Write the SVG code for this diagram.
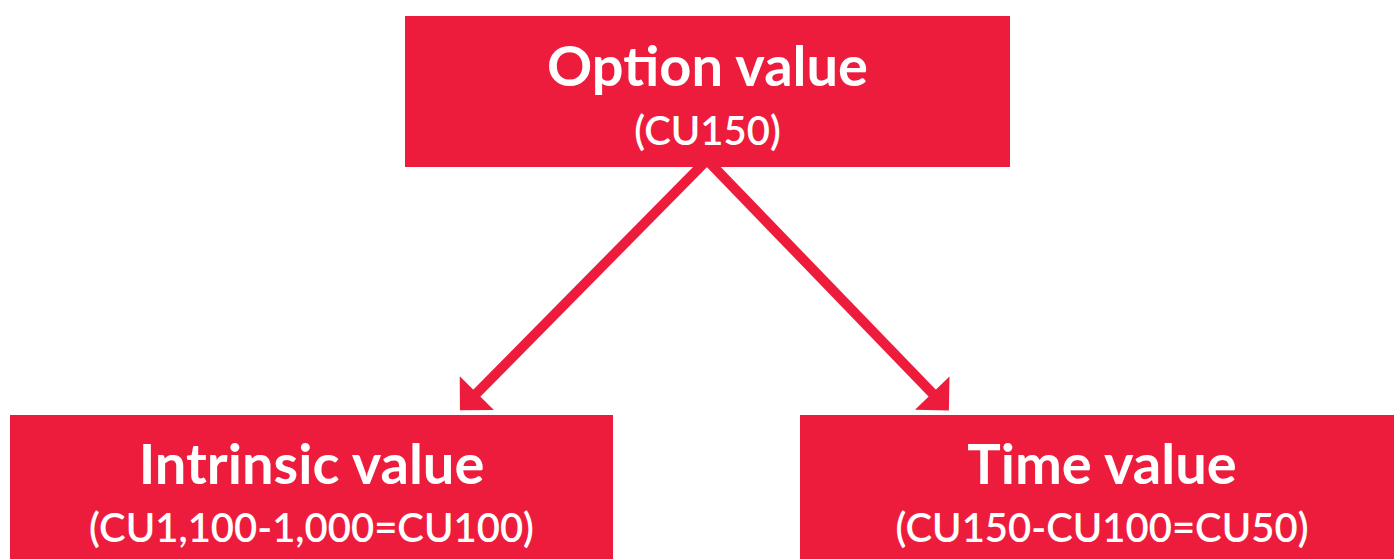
<svg xmlns="http://www.w3.org/2000/svg" width="1394" height="559" viewBox="0 0 1394 559">
<style>
.box{fill:#EE1C3C;}
.t{font-family:Lato,"Open Sans","Liberation Sans",sans-serif;fill:#fff;text-anchor:middle;}
.h{font-size:56px;font-weight:700;}
.s{font-size:40px;font-weight:600;}
.c{stroke:#EE1C3C;stroke-width:10;fill:none;}
</style>
<defs>
<marker id="ah" markerUnits="userSpaceOnUse" markerWidth="60" markerHeight="60" viewBox="-10 -30 40 60" refX="0" refY="0" orient="auto">
<path d="M20,0 L-4,-24 L-4,24 Z" fill="#EE1C3C"/>
</marker>
</defs>
<g id="connectors">
<line class="c" x1="707" y1="160" x2="474" y2="396" marker-end="url(#ah)"/>
<line class="c" x1="707" y1="160" x2="935" y2="396" marker-end="url(#ah)"/>
</g>
<g id="option">
<rect class="box" x="405" y="16" width="605" height="151"/>
<text class="t h" x="707.5" y="86">Option value</text>
<text class="t s" x="707.5" y="145">(CU150)</text>
</g>
<g id="intrinsic">
<rect class="box" x="10" y="415" width="603" height="144"/>
<text class="t h" x="311.5" y="484">Intrinsic value</text>
<text class="t s" x="311.5" y="542">(CU1,100-1,000=CU100)</text>
</g>
<g id="time">
<rect class="box" x="800" y="415" width="594" height="144"/>
<text class="t h" x="1102" y="484">Time value</text>
<text class="t s" x="1102" y="542">(CU150-CU100=CU50)</text>
</g>
</svg>
